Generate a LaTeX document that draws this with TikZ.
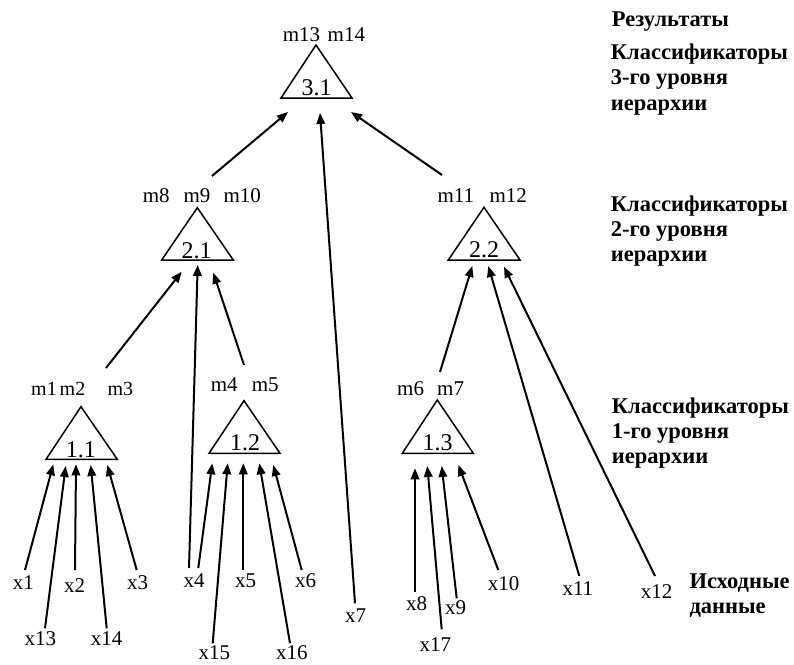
\documentclass[tikz,border=0pt]{standalone}
\usepackage{fontspec}
\setmainfont{Liberation Serif}
\usetikzlibrary{arrows.meta}
\begin{document}
\begin{tikzpicture}[x=1pt,y=-1pt,
  lbl/.style={font=\fontsize{21}{25}\selectfont, inner sep=0pt, anchor=base west},
  mlbl/.style={font=\fontsize{20}{24}\selectfont, inner sep=0pt, anchor=base west},
  num/.style={font=\fontsize{24}{28}\selectfont, inner sep=0pt, anchor=base},
  side/.style={font=\fontsize{22.5}{25}\selectfont\bfseries, inner sep=0pt, anchor=base west},
  tri/.style={draw, line width=1.5pt, line join=miter},
  arr/.style={-{Triangle[length=11pt,width=8.5pt]}, line width=2pt}]
\useasboundingbox (0,0) rectangle (794,664);
\fill[white] (0,0) rectangle (794,664);

% triangles
\draw[tri] (316,45) -- (352,98) -- (281,98) -- cycle;
\node[num] (n31) at (316.7,95.7) {3.1};
\draw[tri] (197.3,207.7) -- (233.3,260) -- (161.7,260) -- cycle;
\node[num] (n21) at (196.7,258.3) {2.1};
\draw[tri] (484,207.3) -- (520,260) -- (448.3,260) -- cycle;
\node[num] (n22) at (484,257.3) {2.2};
\draw[tri] (81,406.7) -- (117.3,459.3) -- (46,459.3) -- cycle;
\node[num] (n11) at (80.8,457.3) {1.1};
\draw[tri] (244,400.7) -- (280,453.3) -- (209,453.3) -- cycle;
\node[num] (n12) at (245,450) {1.2};
\draw[tri] (437.3,400) -- (473.3,453.3) -- (402.3,453.3) -- cycle;
\node[num] (n13) at (437.5,450) {1.3};

% m labels
\node[lbl] (m13) at (282.7,41) {m13};
\node[lbl] (m14) at (327.5,41) {m14};
\node[lbl] (m8) at (142.7,202) {m8};
\node[lbl] (m9) at (183.3,202) {m9};
\node[lbl] (m10) at (223.3,202) {m10};
\node[lbl] (m11) at (437.3,202) {m11};
\node[lbl] (m12) at (489.3,202) {m12};
\node[mlbl] (m1) at (31,395) {m1};
\node[mlbl] (m2) at (59.5,395) {m2};
\node[mlbl] (m3) at (107.3,395) {m3};
\node[lbl] (m4) at (210.7,391.7) {m4};
\node[lbl] (m5) at (251.7,391.7) {m5};
\node[lbl] (m6) at (397,395) {m6};
\node[lbl] (m7) at (437,395) {m7};

% x labels
\node[lbl] (x1) at (12.7,589.3) {x1};
\node[lbl] (x2) at (64,592.7) {x2};
\node[lbl] (x3) at (127,589.3) {x3};
\node[lbl] (x13) at (24.3,645) {x13};
\node[lbl] (x14) at (90.7,645) {x14};
\node[lbl] (x4) at (183.3,587.3) {x4};
\node[lbl] (x5) at (235,587.3) {x5};
\node[lbl] (x6) at (295,587.3) {x6};
\node[lbl] (x15) at (198.3,659) {x15};
\node[lbl] (x16) at (276,659) {x16};
\node[lbl] (x7) at (345,622.7) {x7};
\node[lbl] (x8) at (406,610) {x8};
\node[lbl] (x17) at (419.3,651.7) {x17};
\node[lbl] (x9) at (445,614.3) {x9};
\node[lbl] (x10) at (487.7,590) {x10};
\node[lbl] (x11) at (562.3,595) {x11};
\node[lbl] (x12) at (640.7,598.3) {x12};

% side texts
\node[side] (res) at (611.7,26.7) {Результаты};
\node[side] (k3a) at (610.7,59.3) {Классификаторы};
\node[side] (k3b) at (610.7,84.5) {3-го уровня};
\node[side] (k3c) at (610.7,110) {иерархии};
\node[side] (k2a) at (610.7,211.7) {Классификаторы};
\node[side] (k2b) at (610.7,236.7) {2-го уровня};
\node[side] (k2c) at (610.7,261.7) {иерархии};
\node[side] (k1a) at (611.7,413.3) {Классификаторы};
\node[side] (k1b) at (611.7,438.3) {1-го уровня};
\node[side] (k1c) at (611.7,463.3) {иерархии};
\node[side] (isa) at (689.3,588.3) {Исходные};
\node[side] (isb) at (689.3,613.3) {данные};

% connector end points
\coordinate (s1) at (25,570);     \coordinate (e1) at (53.3,464.3);
\coordinate (s13) at (45,628.3);  \coordinate (e13) at (65.7,466);
\coordinate (s2) at (75,570);     \coordinate (e2) at (76,464.3);
\coordinate (s14) at (106.7,628.3); \coordinate (e14) at (90.7,465);
\coordinate (s3) at (136.7,570);  \coordinate (e3) at (107.3,465);
\coordinate (s4a) at (189,568);   \coordinate (e4a) at (197.7,265);
\coordinate (s4b) at (198.3,568); \coordinate (e4b) at (212.3,463.3);
\coordinate (s15) at (212.7,643.3); \coordinate (e15) at (227.7,463.3);
\coordinate (s5) at (243.3,570);  \coordinate (e5) at (243.3,463.3);
\coordinate (s16) at (290,643.3); \coordinate (e16) at (259.3,463.3);
\coordinate (s6) at (301.7,570);  \coordinate (e6) at (273.3,465);
\coordinate (s7) at (355,603.3);  \coordinate (e7) at (320,113);
\coordinate (s8) at (415,591.7);  \coordinate (e8) at (415,468.3);
\coordinate (s17) at (441.7,629.3); \coordinate (e17) at (427.3,466);
\coordinate (s9) at (456.7,598.3); \coordinate (e9) at (441.7,466);
\coordinate (s10) at (498.3,570); \coordinate (e10) at (458.3,465);
\coordinate (s11) at (579.3,576); \coordinate (e11) at (488.3,266);
\coordinate (s12) at (655,576);   \coordinate (e12) at (504,266.7);
\coordinate (a11) at (106,368);   \coordinate (b11) at (181.7,271.7);
\coordinate (a12) at (244,365);   \coordinate (b12) at (213.3,272.7);
\coordinate (a13) at (440,372);   \coordinate (b13) at (472.3,266);
\coordinate (a21) at (212,176);   \coordinate (b21) at (288,112);
\coordinate (a22) at (442,175);   \coordinate (b22) at (351,112);

\foreach \s/\e in {s1/e1,s13/e13,s2/e2,s14/e14,s3/e3,s4a/e4a,s4b/e4b,s15/e15,s5/e5,s16/e16,s6/e6,s7/e7,s8/e8,s17/e17,s9/e9,s10/e10,s11/e11,s12/e12,a11/b11,a12/b12,a13/b13,a21/b21,a22/b22}
  \draw[arr] (\s) -- (\e);
\end{tikzpicture}
\end{document}
